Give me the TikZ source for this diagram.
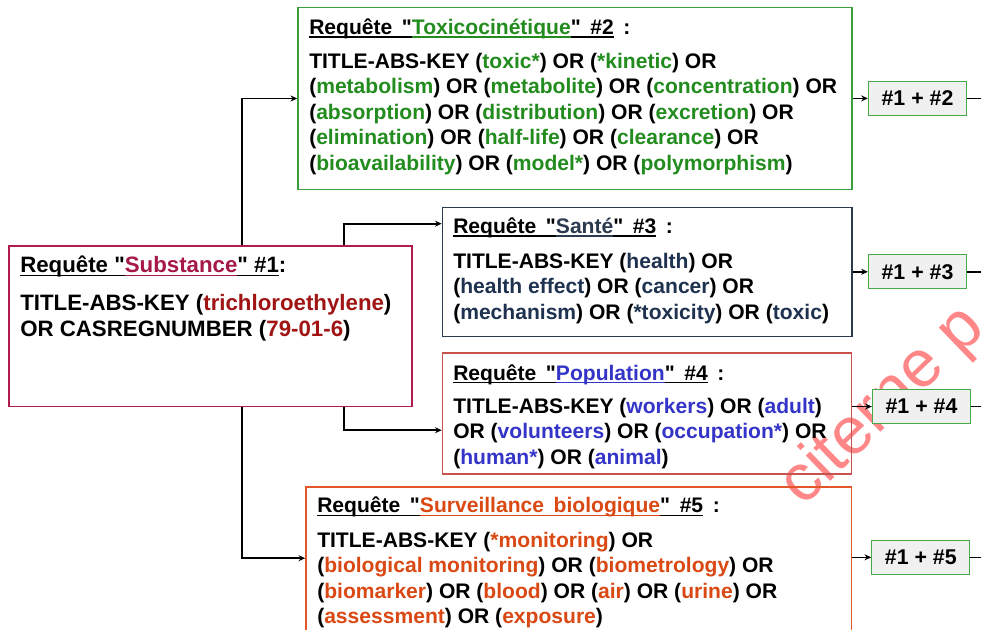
\documentclass[tikz,border=0pt]{standalone}
\usepackage{fontspec}
\setmainfont{Liberation Sans}[Ligatures=TeXOff]
\usetikzlibrary{arrows.meta,calc,fit}

% frame colours
\definecolor{frgreen}{RGB}{58,158,58}
\definecolor{frcrim}{RGB}{176,28,76}
\definecolor{frnavy}{RGB}{44,58,80}
\definecolor{frred}{RGB}{200,82,78}
\definecolor{frorange}{RGB}{226,86,42}
\definecolor{frres}{RGB}{70,170,70}
% keyword colours
\definecolor{kgreen}{RGB}{34,140,30}
\definecolor{kcrimson}{RGB}{166,24,74}
\definecolor{kdred}{RGB}{160,20,20}
\definecolor{knavy}{RGB}{30,50,80}
\definecolor{kblue}{RGB}{52,52,200}
\definecolor{korange}{RGB}{218,72,20}
\definecolor{wmred}{RGB}{255,85,85}

% underline with a fixed depth, drawn in the current colour
\newcommand\ulseg[1]{\setbox0=\hbox{#1}\rlap{\rule[-2.4pt]{\wd0}{0.8pt}}\box0\relax}
\newcommand\kwg[1]{\textcolor{kgreen}{#1}}
\newcommand\kwr[1]{\textcolor{kdred}{#1}}
\newcommand\kwn[1]{\textcolor{knavy}{#1}}
\newcommand\kwb[1]{\textcolor{kblue}{#1}}
\newcommand\kwo[1]{\textcolor{korange}{#1}}

\tikzset{
  qbox/.style={draw, line width=1.2pt, inner sep=0pt},
  resbox/.style={draw=frres, line width=1pt, fill=black!6, inner sep=0pt,
    minimum width=73.5pt, minimum height=25.5pt,
    font=\bfseries\fontsize{16pt}{18pt}\selectfont},
  qtitle/.style={anchor=base west, inner sep=0pt,
    font={\bfseries\fontsize{15.8pt}{19pt}\selectfont\spaceskip=7.2pt plus 1pt\relax}},
  qtitlebig/.style={anchor=base west, inner sep=0pt,
    font=\bfseries\fontsize{16.7pt}{19.5pt}\selectfont},
  qbody/.style={anchor=base west, inner sep=0pt,
    font=\bfseries\fontsize{15.8pt}{19.1pt}\selectfont},
  qbodybig/.style={anchor=base west, inner sep=0pt,
    font=\bfseries\fontsize{16.7pt}{19.6pt}\selectfont},
  link/.style={line width=1.2pt, black},
  arr/.style={link, -{Stealth[length=5pt,width=4.5pt]}},
  wmark/.style={anchor=base west, inner sep=0pt, text=wmred, opacity=0.7,
    font=\fontsize{50pt}{52pt}\selectfont},
}

\begin{document}
\begin{tikzpicture}[x=0.75pt,y=-0.75pt]
\useasboundingbox (0,0) rectangle (981,629);
\fill[white] (0,0) rectangle (981,629);
\clip (0,0) rectangle (981,629);

% watermark, behind everything else
\node[wmark, rotate=44] (wm) at (803,508) {citerne p};

% query frames
\node[qbox, draw=frgreen, fit={(298,7.5) (852,189.5)}] (b2) {};
\node[qbox, draw=frcrim, fit={(9,246) (412,406.5)}] (b1) {};
\node[qbox, draw=frnavy, fit={(442.5,207.5) (852,336.5)}] (b3) {};
\node[qbox, draw=frred, fit={(442.5,353) (851.5,474)}] (b4) {};
\node[qbox, draw=frorange, fit={(306,487) (851.5,660)}] (b5) {};

% query #2
\node[qtitle] (t2h) at (309,34.3)
  {\ulseg{Requête "}{\color{kgreen}\ulseg{Toxicocinétique}}\ulseg{" \#2} :};
\node[qbody] (t2b) at (309,68.3) {\parbox[t]{600pt}{\raggedright
  TITLE-ABS-KEY (\kwg{toxic*}) OR (\kwg{*kinetic}) OR\\
  (\kwg{metabolism}) OR (\kwg{metabolite}) OR (\kwg{concentration}) OR\\
  (\kwg{absorption}) OR (\kwg{distribution}) OR (\kwg{excretion}) OR\\
  (\kwg{elimination}) OR (\kwg{half-life}) OR (\kwg{clearance}) OR\\
  (\kwg{bioavailability}) OR (\kwg{model*}) OR (\kwg{polymorphism})}};

% query #1
\node[qtitlebig] (t1h) at (20,272.7)
  {\ulseg{Requête "}{\color{kcrimson}\ulseg{Substance}}\ulseg{" \#1}:};
\node[qbodybig] (t1b) at (20,310) {\parbox[t]{600pt}{\raggedright
  TITLE-ABS-KEY (\kwr{trichloroethylene})\\
  OR CASREGNUMBER (\kwr{79-01-6})}};

% query #3
\node[qtitle] (t3h) at (453,233.3)
  {\ulseg{Requête "}{\color{frnavy}\ulseg{Santé}}\ulseg{" \#3} :};
\node[qbody] (t3b) at (453,268.3) {\parbox[t]{600pt}{\raggedright
  TITLE-ABS-KEY (\kwn{health}) OR\\
  (\kwn{health effect}) OR (\kwn{cancer}) OR\\
  (\kwn{mechanism}) OR (\kwn{*toxicity}) OR (\kwn{toxic})}};

% query #4
\node[qtitle] (t4h) at (453,380)
  {\ulseg{Requête "}{\color{kblue}\ulseg{Population}}\ulseg{" \#4} :};
\node[qbody] (t4b) at (453,413.3) {\parbox[t]{600pt}{\raggedright
  TITLE-ABS-KEY (\kwb{workers}) OR (\kwb{adult})\\
  OR (\kwb{volunteers}) OR (\kwb{occupation*}) OR\\
  (\kwb{human*}) OR (\kwb{animal})}};

% query #5
\node[qtitle] (t5h) at (317,512.7)
  {\ulseg{Requête "}{\color{korange}\ulseg{Surveillance biologique}}\ulseg{" \#5} :};
\node[qbody] (t5b) at (317,547.3) {\parbox[t]{600pt}{\raggedright
  TITLE-ABS-KEY (\kwo{*monitoring}) OR\\
  (\kwo{biological monitoring}) OR (\kwo{biometrology}) OR\\
  (\kwo{biomarker}) OR (\kwo{blood}) OR (\kwo{air}) OR (\kwo{urine}) OR\\
  (\kwo{assessment}) OR (\kwo{exposure})}};

% combined queries
\node[resbox] (r2) at (917.5,98.4) {\#1 + \#2};
\node[resbox] (r3) at (917.5,271.8) {\#1 + \#3};
\node[resbox] (r4) at (921.5,406.5) {\#1 + \#4};
\node[resbox] (r5) at (920.8,557.3) {\#1 + \#5};

% trunk lines leaving query #1
\coordinate (s1) at (242,0);
\coordinate (s2) at (344,0);
\coordinate (rim) at (990,0);
\draw[arr] (b1.north -| s1) |- (b2.west);
\draw[arr] (b1.south -| s1) |- ($(b5.north west)+(0,72)$);
\draw[arr] (b1.north -| s2) |- ($(b3.north west)+(0,17)$);
\draw[arr] (b1.south -| s2) |- ($(b4.north west)+(0,78)$);

% into and out of the combined queries
\foreach \q in {2,3,4,5}{
  \draw[arr] (b\q.east |- r\q.west) -- (r\q.west);
  \draw[link] (r\q.east) -- (r\q.east -| rim);
}
\end{tikzpicture}
\end{document}
